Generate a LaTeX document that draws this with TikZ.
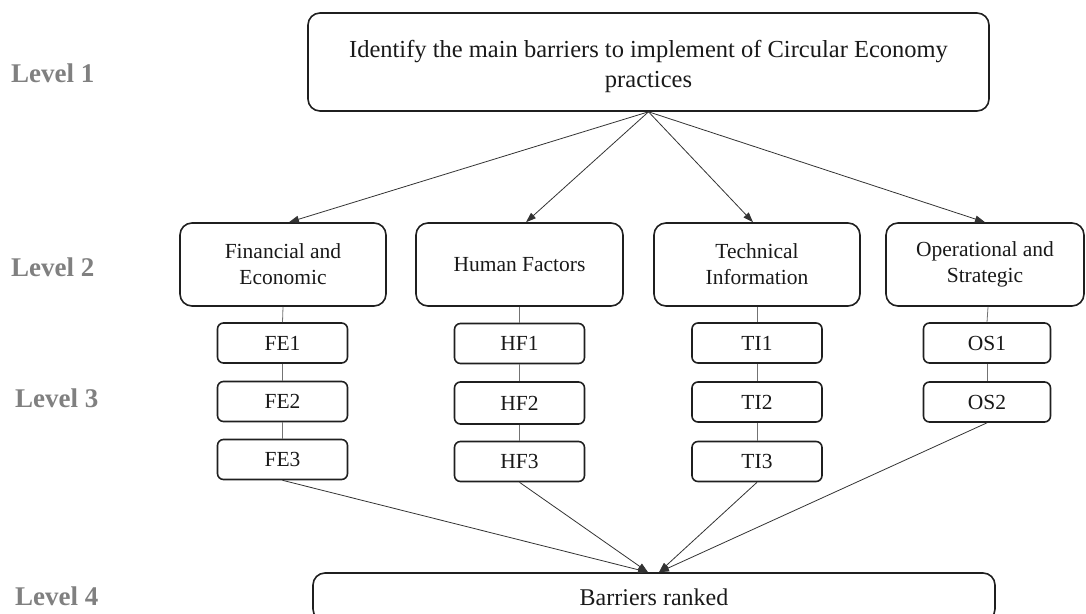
\documentclass[tikz,border=0pt]{standalone}
\usepackage{fontspec}
\setmainfont{Liberation Serif}
\usetikzlibrary{arrows.meta}
\begin{document}
\begin{tikzpicture}[x=1pt,y=-1pt,
  box/.style={draw=black!88, line width=1.6pt, rounded corners=12pt, align=center, inner sep=0pt,
    font=\fontsize{21.5}{26}\selectfont, text=black!90},
  small/.style={box, rounded corners=6pt, minimum width=130pt, minimum height=40pt},
  mid/.style={box, minimum height=83pt},
  lvl/.style={font=\fontsize{27}{30}\selectfont\bfseries, text=black!50, anchor=west, inner sep=0pt},
  arr/.style={draw=black!80, line width=0.8pt, -{Triangle[length=10pt,width=7pt]}},
  link/.style={draw=black!55, line width=0.8pt}]
\clip (0,0) rectangle (1086,613);
\useasboundingbox (0,0) rectangle (1086,613);
% level labels
\node[lvl] (l1) at (11,73) {Level 1};
\node[lvl] (l2) at (11,267) {Level 2};
\node[lvl] (l3) at (15,398) {Level 3};
\node[lvl] (l4) at (15,596) {Level 4};
% level 1
\node[box, minimum width=681pt, minimum height=98pt, font=\fontsize{24.5}{30}\selectfont] (top) at (648.5,62)
  {\parbox{660pt}{\centering\vspace*{8pt}Identify the main barriers to implement of Circular Economy\\practices}};
% level 2
\node[mid, minimum width=206pt] (fe) at (283,264.5) {Financial and\\Economic};
\node[mid, minimum width=207pt] (hf) at (519.5,264.5) {Human Factors};
\node[mid, minimum width=206pt] (ti) at (757,264.5) {Technical\\Information};
\node[mid, minimum width=198pt] (os) at (985,264.5) {Operational and\\Strategic};
% level 3
\node[small] (fe1) at (282.5,343) {FE1};
\node[small] (fe2) at (282.5,401.5) {FE2};
\node[small] (fe3) at (282.5,459.5) {FE3};
\node[small] (hf1) at (519.5,343.5) {HF1};
\node[small, minimum height=42pt] (hf2) at (519.5,403) {HF2};
\node[small] (hf3) at (519.5,461.5) {HF3};
\node[small] (ti1) at (757,343) {TI1};
\node[small] (ti2) at (757,402) {TI2};
\node[small] (ti3) at (757,461.5) {TI3};
\node[small, minimum width=127pt] (os1) at (987,343) {OS1};
\node[small, minimum width=127pt] (os2) at (987,402) {OS2};
% level 4
\node[box, minimum width=682pt, minimum height=48pt, font=\fontsize{24}{28}\selectfont] (rank) at (654,597) {Barriers ranked};
% arrows level 1 -> level 2
\draw[arr] (top.south) -- ([xshift=6pt]fe.north);
\draw[arr] (top.south) -- ([xshift=6.5pt]hf.north);
\draw[arr] (top.south) -- ([xshift=-4pt]ti.north);
\draw[arr] (top.south) -- (os.north);
% links
\draw[link] (fe.south) -- (fe1.north);
\draw[link] (fe1.south) -- (fe2.north);
\draw[link] (fe2.south) -- (fe3.north);
\draw[link] (hf.south) -- (hf1.north);
\draw[link] (hf1.south) -- (hf2.north);
\draw[link] (hf2.south) -- (hf3.north);
\draw[link] (ti.south) -- (ti1.north);
\draw[link] (ti1.south) -- (ti2.north);
\draw[link] (ti2.south) -- (ti3.north);
\draw[link] ([xshift=3pt]os.south) -- (os1.north);
\draw[link] (os1.south) -- (os2.north);
% arrows level 3 -> level 4
\draw[arr] (fe3.south) -- ([xshift=-6pt]rank.north);
\draw[arr] (hf3.south) -- ([xshift=-6pt]rank.north);
\draw[arr] (ti3.south) -- ([xshift=5pt]rank.north);
\draw[arr] (os2.south) -- ([xshift=5pt]rank.north);
\end{tikzpicture}
\end{document}
